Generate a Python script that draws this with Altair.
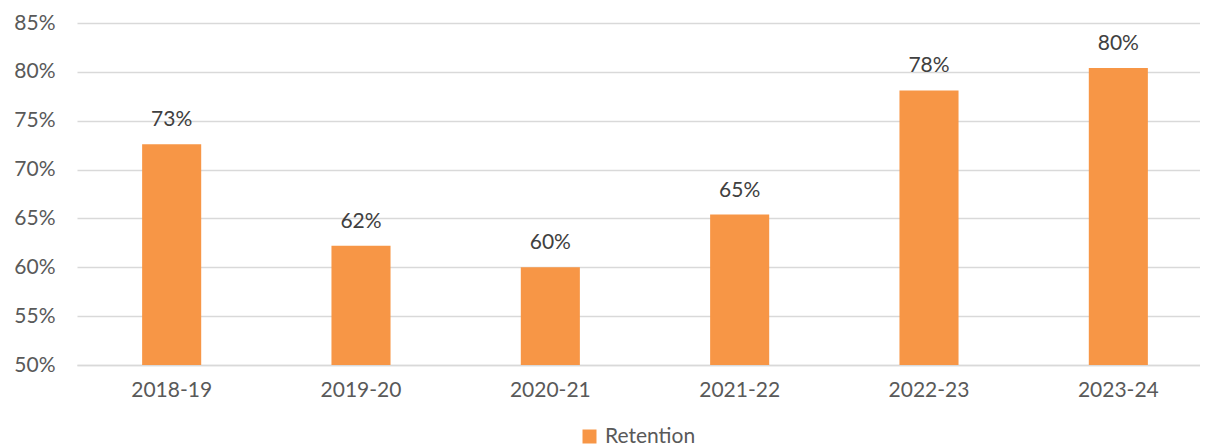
import altair as alt
import pandas as pd

years = ["2018-19", "2019-20", "2020-21", "2021-22", "2022-23", "2023-24"]
retention = [0.726, 0.622, 0.600, 0.654, 0.781, 0.804]
series = ["Retention"] * len(years)

df = pd.DataFrame({"Year": years, "Retention": retention, "Series": series})

FONT = "Lato"
GRAY = "#595959"
ORANGE = "#F79646"

base = alt.Chart(df).encode(
    x=alt.X("Year:N", sort=years, title=None,
            scale=alt.Scale(range=[0, 1136], paddingInner=0.688, paddingOuter=0.344),
            axis=alt.Axis(labelAngle=0, labelFont=FONT, labelFontSize=21,
                          labelColor=GRAY, labelPadding=14, ticks=False,
                          domainColor="#d9d9d9", domainWidth=1.5, grid=False)),
    y=alt.Y("Retention:Q", title=None,
            scale=alt.Scale(domain=[0.5, 0.85], clamp=True, nice=False, zero=False),
            axis=alt.Axis(values=[0.5, 0.55, 0.6, 0.65, 0.7, 0.75, 0.8, 0.85],
                          format=".0%", labelFont=FONT, labelFontSize=21,
                          labelColor=GRAY, labelPadding=22, ticks=False,
                          domain=False, gridColor="#d9d9d9", gridWidth=1.5)),
)

bars = base.mark_bar(color=ORANGE).encode(
    y2=alt.datum(0.5),
    color=alt.Color("Series:N", scale=alt.Scale(range=[ORANGE]),
                    legend=alt.Legend(title=None, orient="none", legendX=502, legendY=403,
                                      symbolType="square", symbolSize=196,
                                      symbolStrokeWidth=0, labelFont=FONT,
                                      labelFontSize=21, labelColor=GRAY, labelOffset=5)),
)

labels = base.mark_text(font=FONT, fontSize=21, color="#404040",
                        baseline="alphabetic", dy=-18).encode(
    text=alt.Text("Retention:Q", format=".0%"))

chart = (bars + labels).properties(
    width=1123, height=342,
    background="white",
    autosize=alt.AutoSizeParams(type="none"),
    padding={"left": 69, "top": 15, "right": 0, "bottom": 80},
).configure_view(stroke=None)

chart.save("out.html", embed_options={"renderer": "svg", "actions": False})
